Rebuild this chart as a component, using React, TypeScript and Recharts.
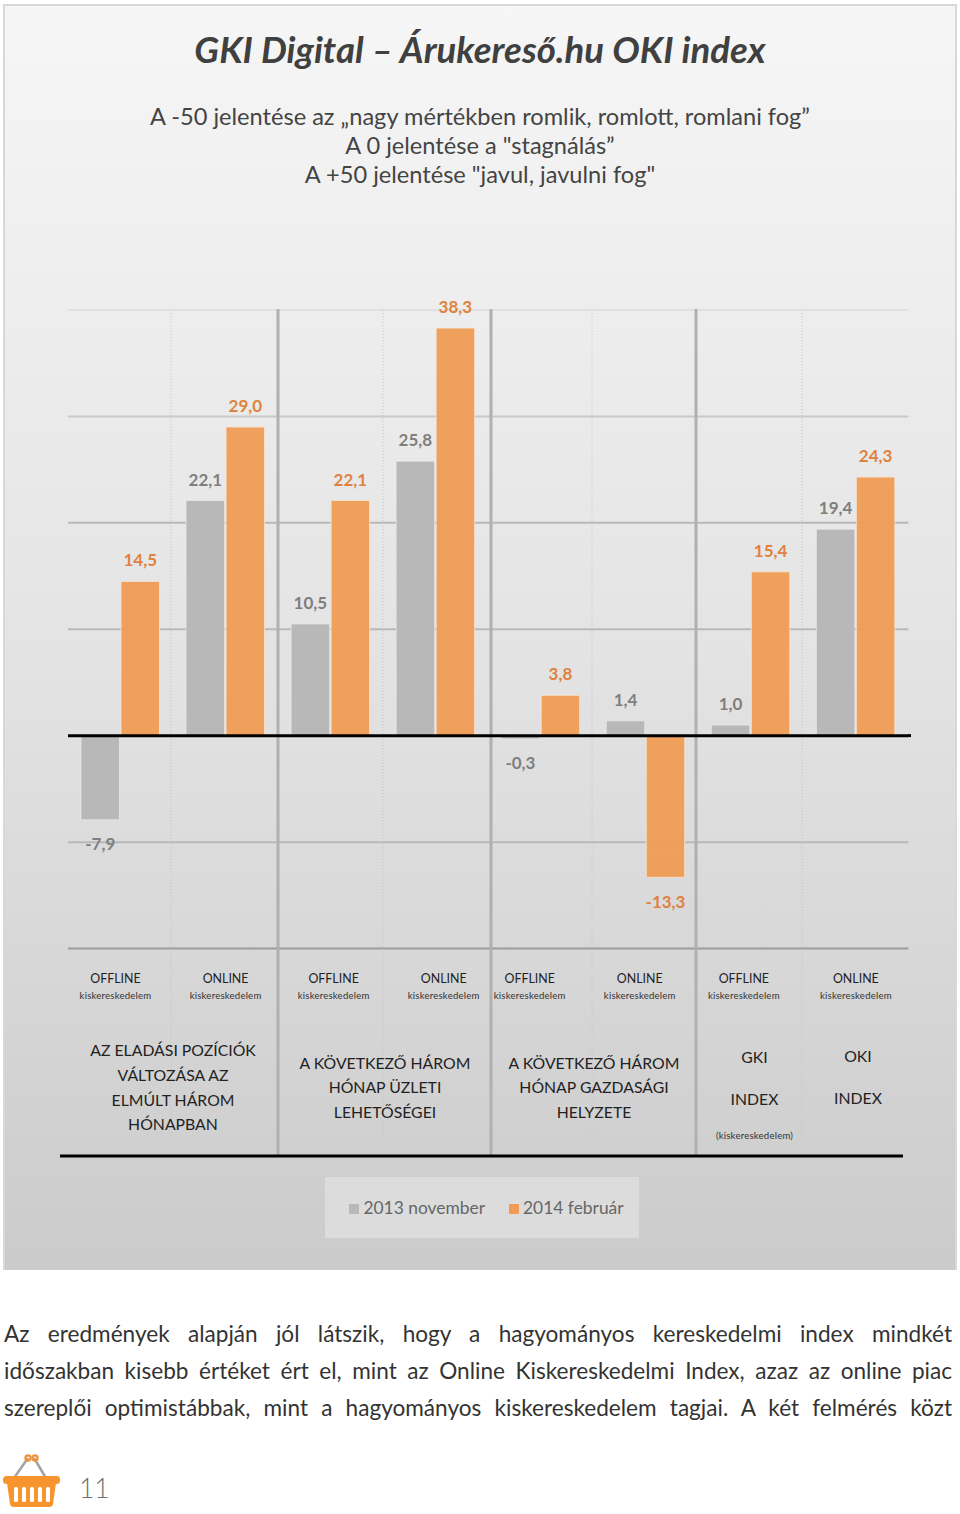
import { BarChart, Bar, XAxis, YAxis, CartesianGrid, ReferenceLine, LabelList, Legend } from 'recharts'

const categories = ['OFFLINE', 'ONLINE', 'OFFLINE', 'ONLINE', 'OFFLINE', 'ONLINE', 'OFFLINE', 'ONLINE']
const nov2013 = [-7.9, 22.1, 10.5, 25.8, -0.3, 1.4, 1.0, 19.4]
const feb2014 = [14.5, 29.0, 22.1, 38.3, 3.8, -13.3, 15.4, 24.3]
const rows = categories.map((cat, i) => ({ cat, nov: nov2013[i], feb: feb2014[i] }))

const subtitle = [
  'A -50 jelentése az „nagy mértékben romlik, romlott, romlani fog”',
  'A 0 jelentése a "stagnálás”',
  'A +50 jelentése "javul, javulni fog"',
]
const bodyLines = [
  'Az eredmények alapján jól látszik, hogy a hagyományos kereskedelmi index mindkét',
  'időszakban kisebb értéket ért el, mint az Online Kiskereskedelmi Index, azaz az online piac',
  'szereplői optimistábbak, mint a hagyományos kiskereskedelem tagjai. A két felmérés közt',
]

const FONT = 'Lato, sans-serif'
const GREY = '#b8b8b8'
const ORANGE = '#f09c55'

// tick labels in the original don't sit exactly under the bars
const tickShift = [-5, 0, 3, 8, -11, -6, -7, 0]
const fmt = (v: number) => v.toFixed(1).replace('.', ',')
// negative labels sit a little further from their bars
const fmtPos = (v: number) => (v >= 0 ? fmt(v) : '')
const fmtNeg = (v: number) => (v < 0 ? fmt(v) : '')

function CatTick({ x, y, payload, index }: any) {
  const cx = x + tickShift[index]
  return (
    <g fontFamily={FONT} textAnchor="middle">
      <text x={cx} y={y + 26} fontSize={12.4} fill="#222">{payload.value}</text>
      <text x={cx} y={y + 42} fontSize={9.6} letterSpacing={0.2} fill="#333">kiskereskedelem</text>
    </g>
  )
}

function GroupText({ x, y, lines, step = 24.8 }: { x: number; y: number; lines: string[]; step?: number }) {
  return (
    <text fontFamily={FONT} fontSize={15.8} fill="#222" textAnchor="middle">
      {lines.map((l, i) => <tspan key={i} x={x} y={y + i * step}>{l}</tspan>)}
    </text>
  )
}

function Basket() {
  return (
    <svg width={60} height={60} viewBox="0 0 60 60" style={{ position: 'absolute', left: 1, top: 1454 }}>
      <path d="M13 24 L27 4 M45 24 L33 4" stroke="#a3a3a3" strokeWidth={2.5} />
      <circle cx={27} cy={4} r={2.6} fill="none" stroke="#f0913a" strokeWidth={2.2} />
      <circle cx={34} cy={4} r={2.6} fill="none" stroke="#f0913a" strokeWidth={2.2} />
      <rect x={2} y={22} width={57} height={8} rx={3.5} fill="#f7942d" />
      <path d="M6 29 H55 L52 50 Q51.5 53 48 53 H13 Q9.5 53 9 50 Z" fill="#f7942d" />
      {[13, 21, 29, 37, 45].map(x => <rect key={x} x={x} y={33} width={4} height={15} rx={1.5} fill="#fff" />)}
    </svg>
  )
}

export default function App() {
  const greyLabel = { fontFamily: FONT, fontSize: 17, fontWeight: 700, fill: '#7f7f7f' }
  const orangeLabel = { fontFamily: FONT, fontSize: 17, fontWeight: 700, fill: '#e0823f' }
  return (
    <div style={{ position: 'absolute', left: 0, top: 0, width: 960, height: 1514, background: '#fff', fontFamily: FONT, overflow: 'hidden' }}>
      <div style={{ position: 'absolute', left: 3, top: 4, width: 950, height: 1264, border: '2px solid #d8d8d8', borderBottom: 'none', background: 'linear-gradient(180deg,#f6f6f6 0%,#e4e4e4 50%,#cbcbcb 100%)' }} />
      <div style={{ position: 'absolute', left: 0, top: 27, width: 960, textAlign: 'center', fontSize: 36.6, fontWeight: 700, fontStyle: 'italic', color: '#404040' }}>
        GKI Digital – Árukereső.hu OKI index
      </div>
      {subtitle.map((s, i) => (
        <div key={i} style={{ position: 'absolute', left: 0, top: 102 + i * 29, width: 960, textAlign: 'center', fontSize: 23.6, lineHeight: '29px', color: '#444' }}>{s}</div>
      ))}

      <div style={{ position: 'absolute', left: 0, top: 0 }}>
        <BarChart width={960} height={1514} data={rows} barSize={38.5} barGap={1.5}
          margin={{ top: 310, right: 51.6, bottom: 535.4, left: 68 }}>
          <CartesianGrid vertical={false} horizontalValues={[40]} stroke="#e0e0e0" strokeWidth={2} />
          <CartesianGrid vertical={false} horizontalValues={[30]} stroke="#c9c9c9" strokeWidth={2} />
          <CartesianGrid vertical={false} horizontalValues={[20, 10, -10]} stroke="#b9b9b9" strokeWidth={2} />
          <CartesianGrid vertical={false} horizontalValues={[-20]} stroke="#9c9c9c" strokeWidth={2} />
          <YAxis hide domain={[-20, 40]} ticks={[-20, -10, 0, 10, 20, 30, 40]} />
          <XAxis dataKey="cat" axisLine={false} tickLine={false} interval={0} tick={<CatTick />} />
          <Bar dataKey="nov" name="2013 november" fill={GREY} stroke="#f0f0f0" strokeOpacity={0.6} isAnimationActive={false}>
            <LabelList dataKey="nov" position="top" offset={15} formatter={fmtPos as any} style={greyLabel} />
            <LabelList dataKey="nov" position="top" offset={18} formatter={fmtNeg as any} style={greyLabel} />
          </Bar>
          <Bar dataKey="feb" name="2014 február" fill={ORANGE} fillOpacity={0.95} stroke="#f7e6d6" strokeOpacity={0.8} isAnimationActive={false}>
            <LabelList dataKey="feb" position="top" offset={15} formatter={fmtPos as any} style={orangeLabel} />
            <LabelList dataKey="feb" position="top" offset={19} formatter={fmtNeg as any} style={orangeLabel} />
          </Bar>
          <ReferenceLine y={0} stroke="#000" strokeWidth={3} />
          <line x1={908} x2={911} y1={735.6} y2={735.6} stroke="#000" strokeWidth={3} />

          {[171, 383, 592, 802].map(x => (
            <line key={x} x1={x} x2={x} y1={310} y2={1150} stroke="#c4c4c4" strokeWidth={1} strokeDasharray="1 2" />
          ))}
          {[278, 491, 696].map(x => (
            <line key={x} x1={x} x2={x} y1={309} y2={1155} stroke="#b0b0b0" strokeWidth={3} />
          ))}
          <line x1={60} x2={903} y1={1156} y2={1156} stroke="#000" strokeWidth={3} />

          <GroupText x={173} y={1056} lines={['AZ ELADÁSI POZÍCIÓK', 'VÁLTOZÁSA AZ', 'ELMÚLT HÁROM', 'HÓNAPBAN']} />
          <GroupText x={385} y={1068.5} lines={['A KÖVETKEZŐ HÁROM', 'HÓNAP ÜZLETI', 'LEHETŐSÉGEI']} />
          <GroupText x={594} y={1068.5} lines={['A KÖVETKEZŐ HÁROM', 'HÓNAP GAZDASÁGI', 'HELYZETE']} />
          <GroupText x={754.5} y={1063} step={42} lines={['GKI', 'INDEX']} />
          <GroupText x={858} y={1062} step={42} lines={['OKI', 'INDEX']} />
          <text x={754.5} y={1139} textAnchor="middle" fontFamily={FONT} fontSize={9.6} letterSpacing={0.2} fill="#333">(kiskereskedelem)</text>

          <Legend layout="horizontal" verticalAlign="middle" align="center" iconType="square" iconSize={10}
            wrapperStyle={{ position: 'absolute', left: 325, top: 1177, width: 314, height: 61, lineHeight: '61px', paddingLeft: 19, boxSizing: 'border-box', background: '#dcdcdc', fontFamily: FONT, fontSize: 18 }}
            formatter={(value: string, _e: any, i: number) => (
              <span style={{ color: '#666', fontFamily: FONT, fontSize: 17.4, paddingRight: i === 0 ? 14 : 0 }}>{value}</span>
            )} />
        </BarChart>
      </div>

      {bodyLines.map((l, i) => (
        <div key={i} style={{ position: 'absolute', left: 4, top: 1315 + i * 37, width: 948, fontSize: 22.6, lineHeight: '37px', color: '#333', textAlign: 'justify', textAlignLast: 'justify' }}>{l}</div>
      ))}
      <Basket />
      <div style={{ position: 'absolute', left: 79, top: 1472, fontSize: 26.5, fontWeight: 300, color: '#6f6f6f' }}>11</div>
    </div>
  )
}
